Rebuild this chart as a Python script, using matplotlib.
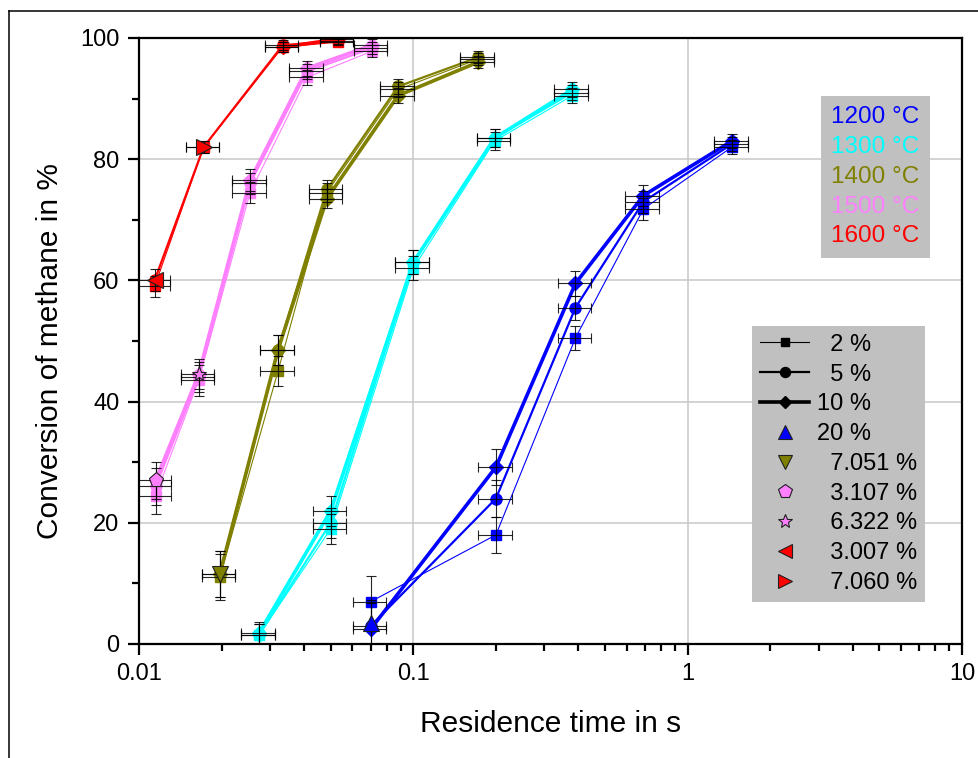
import matplotlib.pyplot as plt
from matplotlib.lines import Line2D
from matplotlib.ticker import FixedLocator, MultipleLocator, NullFormatter, FuncFormatter

plt.rcParams["font.family"] = ["Liberation Sans", "DejaVu Sans"]

nan = float("nan")

# residence time in s and conversion of methane in % (2 %, 5 %, 10 % CH4 in feed)
t_1200 = [0.07, 0.2, 0.39, 0.69, 1.45]
c2_1200 = [7, 18, 50.5, 71.8, 82]
c5_1200 = [3, 24, 55.5, 73, 82.5]
c10_1200 = [2.5, 29.2, 59.5, 74, 83]
err_1200 = [4.3, 3, 2, 1.8, 1.2]

t_1300 = [0.0274, 0.050, 0.1, 0.198, 0.38]
c2_1300 = [1.5, 19, 62, 83, 90.5]
c5_1300 = [1.5, 20, 63, 83.5, 91]
c10_1300 = [1.8, 22, 63, 83.5, 91.5]
err_1300 = [1.8, 2.5, 2, 1.5, 1.2]

t_1400 = [0.0197, 0.0321, 0.0484, 0.088, 0.172]
c2_1400 = [11, 45, 74.5, 91.5, 96.5]
c5_1400 = [11.5, 48.5, 75, 92, 96.8]
c10_1400 = [11.5, 48.5, 73.5, 90.5, 96]
err_1400 = [3.8, 2.5, 1.5, 1.2, 1]

t_1500 = [0.0115, 0.0165, 0.0254, 0.041, 0.0705]
c2_1500 = [24.5, 43.5, 74.5, 93.5, 97.8]
c5_1500 = [26, 44, 76, 94.5, 98.3]
c10_1500 = [27, 44.5, 76.5, 95, 98.8]
err_1500 = [3, 2.5, 1.8, 1.2, 1]

t_1600 = [0.0114, 0.0172, 0.0334, 0.053]
c2_1600 = [59, 82, 98.5, 99.3]
c5_1600 = [60, 82, 98.8, 99.5]
c10_1600 = [nan, nan, 98.5, 99.8]
err_1600 = [1.8, 1, 0.8, 0.5]

# single measurements at other feed concentrations
extra_labels = ["20 %", "7.051 %", "3.107 %", "6.322 %", "3.007 %", "7.060 %"]
extra_t = [0.07, 0.0197, 0.0115, 0.0165, 0.0114, 0.0172]
extra_c = [3.5, 11.5, 27, 44.5, 60, 82]
extra_markers = ["^", "v", "p", "*", "<", ">"]

temps = ["1200 °C", "1300 °C", "1400 °C", "1500 °C", "1600 °C"]
colors = ["#0000ff", "#00ffff", "#808000", "#ff80ff", "#ff0000"]
extra_colors = ["#0000ff", "#808000", "#ff80ff", "#ff80ff", "#ff0000", "#ff0000"]

t_rel_err = 0.14

groups = [
    (t_1200, [c2_1200, c5_1200, c10_1200], err_1200),
    (t_1300, [c2_1300, c5_1300, c10_1300], err_1300),
    (t_1400, [c2_1400, c5_1400, c10_1400], err_1400),
    (t_1500, [c2_1500, c5_1500, c10_1500], err_1500),
    (t_1600, [c2_1600, c5_1600, c10_1600], err_1600),
]
conc_labels = ["  2 %", "  5 %", "10 %"]
conc_markers = ["s", "o", "D"]
conc_lw = [0.8, 1.6, 2.6]
conc_ms = [7, 8, 7]

fig = plt.figure(figsize=(9.79, 7.58), dpi=100)
ax = fig.add_axes([0.142, 0.1504, 0.8406, 0.7995])

for (t, series, err), col in zip(groups, colors):
    for c, m, lw, ms in zip(series, conc_markers, conc_lw, conc_ms):
        ax.plot(t, c, color=col, lw=lw, marker=m, ms=ms, mec=col, zorder=2)
        ax.errorbar(t, c, yerr=err, xerr=[x * t_rel_err for x in t], fmt="none",
                    ecolor="black", elinewidth=0.8, capsize=3.6, capthick=0.8,
                    alpha=0.85, zorder=3)

for t, c, m, col in zip(extra_t, extra_c, extra_markers, extra_colors):
    ax.plot([t], [c], ls="none", marker=m, ms=11, mfc=col, mec="#202020",
            mew=0.8, zorder=4)

ax.set_xscale("log")
ax.set_xlim(0.01, 10)
ax.set_ylim(0, 100)
ax.xaxis.set_major_locator(FixedLocator([0.01, 0.1, 1, 10]))
ax.xaxis.set_major_formatter(FuncFormatter(lambda v, p: "%g" % v))
ax.xaxis.set_minor_locator(FixedLocator(
    [m * d for d in (0.01, 0.1, 1) for m in range(2, 10)]))
ax.xaxis.set_minor_formatter(NullFormatter())
ax.yaxis.set_major_locator(MultipleLocator(20))
ax.yaxis.set_minor_locator(MultipleLocator(10))

ax.grid(True, which="major", color="#c8c8c8", lw=1.1, zorder=0)
ax.set_axisbelow(True)
for s in ax.spines.values():
    s.set_linewidth(1.6)
ax.tick_params(which="major", direction="out", length=8, width=1.6,
               labelsize=17, pad=6)
ax.tick_params(which="minor", direction="out", length=5, width=1.6)

ax.set_xlabel("Residence time in s", fontsize=21.5, labelpad=18)
ax.set_ylabel("Conversion of methane in %", fontsize=21.5, labelpad=12,
              y=0.4835)

# temperature key
temp_handles = [Line2D([], [], ls="none") for _ in temps]
leg1 = ax.legend(temp_handles, temps, loc="upper left",
                 bbox_to_anchor=(0.8287, 0.9043), borderaxespad=0,
                 handlelength=0, handletextpad=0, labelcolor=colors,
                 fontsize=17.5, frameon=True, facecolor="#c0c0c0",
                 edgecolor="none", framealpha=1, fancybox=False,
                 labelspacing=0.32, borderpad=0.42)
ax.add_artist(leg1)

# concentration key
conc_handles = [Line2D([], [], color="black", lw=lw, marker=m, ms=ms * 0.9)
                for m, lw, ms in zip(conc_markers, conc_lw, conc_ms)]
conc_handles += [Line2D([], [], ls="none", marker=m, ms=10, mfc=col,
                        mec="#202020", mew=0.8)
                 for m, col in zip(extra_markers, extra_colors)]
extra_names = [extra_labels[0]] + ["  " + s for s in extra_labels[1:]]
leg2 = ax.legend(conc_handles, conc_labels + extra_names, loc="upper left",
                 bbox_to_anchor=(0.745, 0.5248), borderaxespad=0,
                 handlelength=2.1, handletextpad=0.3, fontsize=17,
                 frameon=True, facecolor="#c0c0c0", edgecolor="none",
                 framealpha=1, fancybox=False, labelspacing=0.33,
                 borderpad=0.33)

# outer frame of the page
fig.add_artist(Line2D([9 / 979, 9 / 979], [0, 1 - 11 / 758], color="black",
                      lw=1.1, transform=fig.transFigure))
fig.add_artist(Line2D([9 / 979, 1], [1 - 11 / 758, 1 - 11 / 758],
                      color="black", lw=1.1, transform=fig.transFigure))

plt.savefig("out.png", dpi=100)
plt.close()
